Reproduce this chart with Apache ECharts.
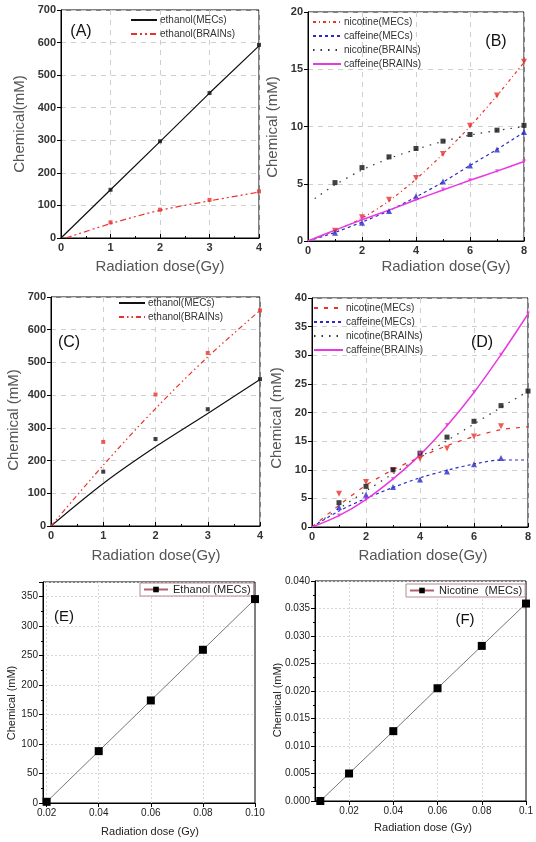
<!DOCTYPE html>
<html><head><meta charset="utf-8">
<script src="https://cdn.jsdelivr.net/npm/echarts@6/dist/echarts.min.js"></script>
<style>html,body{margin:0;padding:0;background:#fff}#c{width:536px;height:842px}</style>
</head><body><div id="c"></div>
<script>
// ---------- DATA ----------
// Panel A
const doseA = [1, 2, 3, 4];
const A_ethMEC_pts = [148, 297, 445, 593];
const A_ethMEC_fitX = [0, 1, 2, 3, 4];
const A_ethMEC_fit = [0, 148, 296, 445, 590];
const A_ethBRAIN_pts = [48, 87, 117, 143];
const A_ethBRAIN_fitX = [0.1, 1, 2, 3, 4];
const A_ethBRAIN_fit = [0, 44, 85, 114, 141];
// Panel B
const doseB = [1, 2, 3, 4, 5, 6, 7, 8];
const B_nicMEC_pts = [0.9, 2.07, 3.6, 5.5, 7.6, 10.06, 12.7, 15.65];
const B_nicMEC_fitX = [0, 1, 2, 3, 4, 5, 6, 7, 8];
const B_nicMEC_fit = [0, 0.9, 2.0, 3.5, 5.4, 7.6, 10.0, 12.7, 15.6];
const B_cafMEC_pts = [0.73, 1.6, 2.62, 3.9, 5.19, 6.6, 8.0, 9.53];
const B_cafMEC_fitX = [0, 1, 2, 3, 4, 5, 6, 7, 8];
const B_cafMEC_fit = [0, 0.75, 1.65, 2.65, 3.85, 5.15, 6.6, 8.0, 9.5];
const B_nicBRAIN_pts = [5.1, 6.41, 7.35, 8.08, 8.72, 9.3, 9.68, 10.1];
const B_nicBRAIN_fitX = [0.25, 1, 2, 3, 4, 5, 6, 7, 8];
const B_nicBRAIN_fit = [3.7, 4.9, 6.2, 7.2, 8.0, 8.7, 9.25, 9.65, 10.0];
const B_cafBRAIN_ptsX = [2, 4, 5, 6, 7, 8];
const B_cafBRAIN_pts = [1.95, 3.6, 4.5, 5.3, 6.1, 6.94];
const B_cafBRAIN_fitX = [0, 1, 2, 3, 4, 5, 6, 7, 8];
const B_cafBRAIN_fit = [0, 0.95, 1.85, 2.7, 3.6, 4.45, 5.3, 6.1, 6.95];
// Panel C
const doseC = [1, 2, 3, 4];
const C_ethMEC_pts = [166, 266, 357, 449];
const C_ethMEC_fitX = [0, 1, 2, 3, 4];
const C_ethMEC_fit = [0, 130, 242, 344, 448];
const C_ethBRAIN_pts = [257, 402, 529, 659];
const C_ethBRAIN_fitX = [0, 1, 2, 3, 4];
const C_ethBRAIN_fit = [0, 186, 359, 517, 659];
// Panel D
const doseD = [1, 2, 3, 4, 5, 6, 7];
const D_nicMEC_pts = [5.8, 7.86, 9.9, 11.9, 13.7, 15.8, 17.6];
const D_nicMEC_fitX = [0, 1, 2, 3, 4, 5, 6, 7, 8];
const D_nicMEC_fit = [0, 3.8, 7.3, 10.0, 12.2, 14.2, 15.8, 17.0, 17.5];
const D_cafMEC_pts = [3.5, 5.65, 7.0, 8.3, 9.7, 10.95, 12.05];
const D_cafMEC_fitX = [0, 1, 2, 3, 4, 5, 6, 7, 8];
const D_cafMEC_fit = [0, 2.8, 5.0, 6.9, 8.6, 9.9, 11.0, 11.7, 11.7];
const D_nicBRAIN_ptsX = [1, 2, 3, 4, 5, 6, 7, 8];
const D_nicBRAIN_pts = [4.25, 7.1, 10.0, 12.9, 15.7, 18.46, 21.2, 23.75];
const D_nicBRAIN_fitX = [0, 1, 2, 3, 4, 5, 6, 7, 8];
const D_nicBRAIN_fit = [0, 3.2, 6.3, 9.3, 12.2, 15.1, 18.0, 20.9, 23.7];
const D_cafBRAIN_ptsX = [1, 2, 3, 4, 5, 6, 7, 8];
const D_cafBRAIN_pts = [2.0, 4.8, 8.4, 12.9, 17.8, 23.6, 30.1, 37.3];
const D_cafBRAIN_fitX = [0, 1, 2, 3, 4, 5, 6, 7, 8];
const D_cafBRAIN_fit = [0, 2.0, 4.8, 8.4, 12.6, 17.7, 23.5, 30.1, 37.2];
// Panel E
const doseE = [0.02, 0.04, 0.06, 0.08, 0.10];
const E_eth = [2, 88, 174, 260, 346];
const E_xTicks = [0.02, 0.04, 0.06, 0.08, 0.10];
// Panel F
const doseF = [0.007, 0.02, 0.04, 0.06, 0.08, 0.10];
const F_nic = [0.0, 0.005, 0.0127, 0.0205, 0.0282, 0.0359];
const F_xTicks = [0.02, 0.04, 0.06, 0.08, 0.1];

// ---------- HELPERS ----------
const zip = (xs, ys) => xs.map((x, i) => [x, ys[i]]);
const RED = '#e8322c', BLUE = '#2a2ac8', MAG = '#e838e0', BLK = '#111';
const FONT = 'Liberation Sans, Arial, sans-serif';

const grids = [
  {left: 61, top: 10, width: 198, height: 228},
  {left: 308, top: 12, width: 216, height: 229},
  {left: 51, top: 297, width: 209, height: 229},
  {left: 312, top: 298, width: 216, height: 229},
  {left: 43, top: 582, width: 212, height: 221},
  {left: 315, top: 581, width: 211, height: 220}
].map(g => Object.assign({show: true, borderColor: '#000', borderWidth: 1, backgroundColor: 'transparent', containLabel: false}, g));

function axTop(idx, isX, min, max, interval, minorSplit) {
  return {
    type: 'value', gridIndex: idx, min, max, interval,
    axisLine: {show: true, onZero: false, lineStyle: {color: '#000', width: 1}},
    axisTick: {show: true, inside: isX, length: 4, lineStyle: {color: '#000'}},
    minorTick: {show: !!minorSplit, splitNumber: minorSplit || 2, length: 2, lineStyle: {color: '#000'}},
    axisLabel: {color: '#333', fontFamily: FONT, fontWeight: 'bold', fontSize: 11, margin: isX ? 4 : 5},
    splitLine: {show: true, lineStyle: {color: '#cfcfcf', type: [5, 5], width: 1}}
  };
}
const xAxes = [
  axTop(0, true, 0, 4, 1, 2),
  axTop(1, true, 0, 8, 2, 2),
  axTop(2, true, 0, 4, 1, 2),
  axTop(3, true, 0, 8, 2, 2),
];
const yAxes = [
  axTop(0, false, 0, 700, 100),
  axTop(1, false, 0, 20, 5),
  axTop(2, false, 0, 700, 100),
  axTop(3, false, 0, 40, 5),
];
function axBot(idx, isX, min, max, interval, custom, fmt) {
  const a = {
    type: 'value', gridIndex: idx, min, max,
    axisLine: {show: true, onZero: false, lineStyle: {color: '#000', width: 1}},
    axisTick: {show: true, inside: false, length: 4, lineStyle: {color: '#000'}},
    minorTick: {show: true, splitNumber: 2, length: 2, lineStyle: {color: '#000'}},
    axisLabel: {color: '#222', fontFamily: FONT, fontSize: 10, margin: 5, formatter: fmt, showMaxLabel: isX},
    splitLine: {show: true, lineStyle: {color: '#d8d8d8', type: [2, 2], width: 1}}
  };
  if (interval) a.interval = interval;
  if (custom) {
    a.axisLabel.customValues = custom;
    a.axisTick.customValues = custom;
    a.minorTick.show = false;
    a.splitLine.show = false;
  }
  return a;
}
xAxes.push(axBot(4, true, 0.0186, 0.10, null, E_xTicks, v => (+v).toFixed(2)));
xAxes.push(axBot(5, true, 0.0046, 0.10, null, F_xTicks, v => (Math.abs(v - 0.1) < 1e-9 ? '0.1' : (+v).toFixed(2))));
yAxes.push(axBot(4, false, 0, 375, 50, null, v => String(v)));
yAxes.push(axBot(5, false, 0, 0.040, 0.005, null, v => (+v).toFixed(3)));
yAxes[4].axisLabel.showMaxLabel = false;
yAxes[5].axisLabel.showMaxLabel = true;

const series = [];
function fit(name, idx, xs, ys, color, type, width, smooth) {
  series.push({name, type: 'line', xAxisIndex: idx, yAxisIndex: idx, data: zip(xs, ys),
    symbol: 'none', smooth: smooth === undefined ? 0.3 : smooth, silent: true, animation: false,
    lineStyle: {color, type, width: width || 1}, itemStyle: {color}, z: 3});
}
function pts(name, idx, xs, ys, color, symbol, size, rotate) {
  series.push({name, type: 'scatter', xAxisIndex: idx, yAxisIndex: idx, data: zip(xs, ys),
    symbol, symbolSize: size, symbolRotate: rotate || 0, itemStyle: {color}, silent: true, animation: false, z: 4});
}
// A
fit('A|ethanol(MECs)', 0, A_ethMEC_fitX, A_ethMEC_fit, BLK, 'solid', 1.2, false);
fit('A|ethanol(BRAINs)', 0, A_ethBRAIN_fitX, A_ethBRAIN_fit, RED, [6, 3, 2, 3, 2, 3], 1.2);
pts('_a1', 0, doseA, A_ethMEC_pts, BLK, 'rect', 4);
pts('_a2', 0, doseA, A_ethBRAIN_pts, RED, 'rect', 4);
// B
fit('B|nicotine(MECs)', 1, B_nicMEC_fitX, B_nicMEC_fit, RED, [3, 3, 1, 3], 1.2);
fit('B|caffeine(MECs)', 1, B_cafMEC_fitX, B_cafMEC_fit, BLUE, [3, 3], 1.2);
fit('B|nicotine(BRAINs)', 1, B_nicBRAIN_fitX, B_nicBRAIN_fit, '#333', [1.5, 6], 1.2);
fit('B|caffeine(BRAINs)', 1, B_cafBRAIN_fitX, B_cafBRAIN_fit, MAG, 'solid', 1.5);
pts('_b1', 1, doseB, B_nicMEC_pts, RED, 'triangle', 6, 180);
pts('_b2', 1, doseB, B_cafMEC_pts, BLUE, 'triangle', 6);
pts('_b3', 1, doseB, B_nicBRAIN_pts, BLK, 'rect', 5);
pts('_b4', 1, B_cafBRAIN_ptsX, B_cafBRAIN_pts, MAG, 'triangle', 4, 180);
// C
fit('C|ethanol(MECs)', 2, C_ethMEC_fitX, C_ethMEC_fit, BLK, 'solid', 1.2);
fit('C|ethanol(BRAINs)', 2, C_ethBRAIN_fitX, C_ethBRAIN_fit, RED, [5, 3, 1.5, 3, 1.5, 3], 1.2);
pts('_c1', 2, doseC, C_ethMEC_pts, BLK, 'rect', 4);
pts('_c2', 2, doseC, C_ethBRAIN_pts, RED, 'rect', 4);
// D
fit('D|nicotine(MECs)', 3, D_nicMEC_fitX, D_nicMEC_fit, RED, [4, 6], 1.2);
fit('D|caffeine(MECs)', 3, D_cafMEC_fitX, D_cafMEC_fit, BLUE, [3, 3], 1.2);
fit('D|nicotine(BRAINs)', 3, D_nicBRAIN_fitX, D_nicBRAIN_fit, '#333', [1.5, 6], 1.2);
fit('D|caffeine(BRAINs)', 3, D_cafBRAIN_fitX, D_cafBRAIN_fit, MAG, 'solid', 1.5);
pts('_d1', 3, doseD, D_nicMEC_pts, RED, 'triangle', 6, 180);
pts('_d2', 3, doseD, D_cafMEC_pts, BLUE, 'triangle', 6);
pts('_d3', 3, D_nicBRAIN_ptsX, D_nicBRAIN_pts, BLK, 'rect', 5);
pts('_d4', 3, D_cafBRAIN_ptsX, D_cafBRAIN_pts, MAG, 'triangle', 4, 180);
// E, F
series.push({name: 'E|Ethanol (MECs)', type: 'line', xAxisIndex: 4, yAxisIndex: 4, data: zip(doseE, E_eth),
  symbol: 'rect', symbolSize: 8, showSymbol: true, lineStyle: {color: '#777', width: 1},
  itemStyle: {color: '#000', borderWidth: 0}, animation: false, z: 5});
series.push({name: 'F|Nicotine  (MECs)', type: 'line', xAxisIndex: 5, yAxisIndex: 5, data: zip(doseF, F_nic),
  symbol: 'rect', symbolSize: 8, showSymbol: true, lineStyle: {color: '#777', width: 1},
  itemStyle: {color: '#000', borderWidth: 0}, animation: false, z: 5});

// vertical grid lines for E and F (aligned to labelled ticks)
series.push({type: 'line', xAxisIndex: 4, yAxisIndex: 4, data: [], silent: true, z: 0, zlevel: 0,
  markLine: {symbol: 'none', silent: true, z: 0, label: {show: false}, lineStyle: {color: '#d8d8d8', type: [2, 2], width: 1},
    data: E_xTicks.slice(0, -1).map(v => ({xAxis: v}))}});
series.push({type: 'line', xAxisIndex: 5, yAxisIndex: 5, data: [], silent: true, z: 0, zlevel: 0,
  markLine: {symbol: 'none', silent: true, z: 0, label: {show: false}, lineStyle: {color: '#d8d8d8', type: [2, 2], width: 1},
    data: F_xTicks.slice(0, -1).map(v => ({xAxis: v}))}});

const fmtLeg = n => n.split('|')[1];
function legTop(names, left, top, iw) {
  return {data: names, left, top, orient: 'vertical', itemWidth: iw, itemHeight: 8, itemGap: 4,
    formatter: fmtLeg, textStyle: {fontFamily: FONT, fontSize: 10, color: '#333', padding: [0, 0, 0, -2]},
    itemStyle: {opacity: 0}, selectedMode: false, padding: 0};
}
const legends = [
  legTop(['A|ethanol(MECs)', 'A|ethanol(BRAINs)'], 130, 15, 26),
  legTop(['B|nicotine(MECs)', 'B|caffeine(MECs)', 'B|nicotine(BRAINs)', 'B|caffeine(BRAINs)'], 312, 17, 28),
  legTop(['C|ethanol(MECs)', 'C|ethanol(BRAINs)'], 118, 298, 26),
  legTop(['D|nicotine(MECs)', 'D|caffeine(MECs)', 'D|nicotine(BRAINs)', 'D|caffeine(BRAINs)'], 313, 303, 29),
  {data: ['E|Ethanol (MECs)'], left: 140, top: 583, itemWidth: 24, itemHeight: 7, formatter: fmtLeg,
    textStyle: {fontFamily: FONT, fontSize: 11, color: '#222'}, borderColor: '#b58a90', borderWidth: 1, padding: [1, 3],
    itemStyle: {color: '#000', borderWidth: 0}, lineStyle: {color: '#b06070'},
    backgroundColor: '#fff', selectedMode: false},
  {data: ['F|Nicotine  (MECs)'], left: 406, top: 584, itemWidth: 24, itemHeight: 7, formatter: fmtLeg,
    textStyle: {fontFamily: FONT, fontSize: 11, color: '#222'}, borderColor: '#b58a90', borderWidth: 1, padding: [1, 3],
    itemStyle: {color: '#000', borderWidth: 0}, lineStyle: {color: '#b06070'},
    backgroundColor: '#fff', selectedMode: false}
];

function txt(text, x, y, size, color, rot, weight) {
  return {type: 'text', x, y, rotation: rot ? Math.PI / 2 : 0, silent: true, z: 10,
    style: {text, fontFamily: FONT, fontSize: size, fill: color, align: 'center', verticalAlign: 'middle', fontWeight: weight || 'normal'}};
}
const TC = '#555';
const graphics = [
  txt('Chemical(mM)', 20, 124, 15, TC, true),
  txt('Radiation dose(Gy)', 160, 267, 15, TC),
  txt('(A)', 81, 32, 16, '#111'),
  txt('Chemical (mM)', 273, 127, 15, TC, true),
  txt('Radiation dose(Gy)', 446, 267, 15, TC),
  txt('(B)', 496, 42, 16, '#111'),
  txt('Chemical (mM)', 14, 420, 15, TC, true),
  txt('Radiation dose(Gy)', 156, 556, 15, TC),
  txt('(C)', 69, 343, 16, '#111'),
  txt('Chemical (mM)', 277, 418, 15, TC, true),
  txt('Radiation dose(Gy)', 423, 556, 15, TC),
  txt('(D)', 482, 343, 16, '#111'),
  txt('Chemical (mM)', 12, 703, 11, '#222', true),
  txt('Radiation dose (Gy)', 150, 832, 11, '#222'),
  txt('(E)', 64, 617, 15, '#111'),
  txt('Chemical (mM)', 278, 700, 11, '#222', true),
  txt('Radiation dose (Gy)', 423, 828, 11, '#222'),
  txt('(F)', 465, 620, 15, '#111')
];

const chart = echarts.init(document.getElementById('c'), null, {renderer: 'canvas'});
chart.setOption({
  animation: false,
  backgroundColor: '#fff',
  grid: grids, xAxis: xAxes, yAxis: yAxes, series, legend: legends, graphic: graphics
});
</script></body></html>
